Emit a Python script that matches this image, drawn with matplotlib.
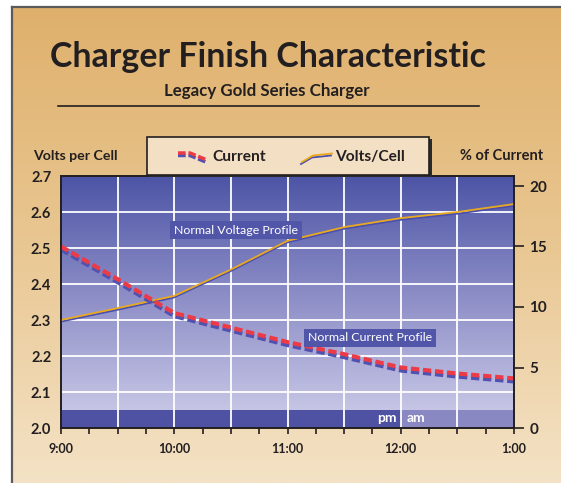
import numpy as np
import matplotlib
matplotlib.use('Agg')
import matplotlib.pyplot as plt
import matplotlib.transforms as mtransforms
from matplotlib.colors import LinearSegmentedColormap
from matplotlib.patches import Rectangle
from matplotlib.lines import Line2D

plt.rcParams['font.family'] = ['Lato', 'DejaVu Sans']

# data (hours: 9:00 am .. 1:00 am as 9..13)
hours = [9.0, 9.5, 10.0, 10.5, 11.0, 11.5, 12.0, 12.5, 13.0]
volts_per_cell = [2.30, 2.333, 2.367, 2.44, 2.52, 2.558, 2.583, 2.60, 2.622]
pct_current = [15.0, 12.3, 9.5, 8.3, 7.1, 6.1, 5.0, 4.5, 4.1]

hour_ticks = [9, 10, 11, 12, 13]
hour_labels = ['9:00', '10:00', '11:00', '12:00', '1:00']
minor_hours = [9.25, 9.5, 9.75, 10.25, 10.5, 10.75, 11.25, 11.5, 11.75,
               12.25, 12.5, 12.75]
grid_hours = [9.5, 10.0, 10.5, 11.0, 11.5, 12.0, 12.5]
volt_ticks = [2.0, 2.1, 2.2, 2.3, 2.4, 2.5, 2.6, 2.7]
volt_grid = [2.1, 2.2, 2.3, 2.4, 2.5, 2.6]
pct_ticks = [0, 5, 10, 15, 20]

TXT = '#231f20'
W, H = 561, 483


def px(x, y):
    # pixel position (from top-left) -> figure fraction
    return x / W, 1 - y / H


fig = plt.figure(figsize=(W / 100, H / 100), dpi=100)
fig.patch.set_facecolor('white')

# tan panel behind everything
bg = fig.add_axes([12 / W, 0, 1 - 12 / W, 1 - 7 / H])
bg.set_zorder(-1)
bg_cmap = LinearSegmentedColormap.from_list('tan', ['#dfb06c', '#e9c792', '#f4e2c6'])
bg.imshow(np.linspace(0, 1, 256).reshape(-1, 1), cmap=bg_cmap, aspect='auto',
          extent=[0, 1, 0, 1])
bg.set_xticks([])
bg.set_yticks([])
for s in ['right', 'bottom']:
    bg.spines[s].set_visible(False)
for s in ['left', 'top']:
    bg.spines[s].set_color('#5a5a5a')
    bg.spines[s].set_linewidth(1.6)

# main plot
ax = fig.add_axes([61 / W, 55 / H, 453 / W, 252 / H])
ax.set_xlim(9, 13)
ax.set_ylim(2.0, 2.7)
plot_cmap = LinearSegmentedColormap.from_list('blu', ['#4c54a5', '#8b8cc6', '#c6c5e5'])
ax.imshow(np.linspace(0, 1, 256).reshape(-1, 1), cmap=plot_cmap, aspect='auto',
          extent=[9, 13, 2.05, 2.7], zorder=0)
ax.axhspan(2.0, 2.05, xmin=0, xmax=0.75, color='#4f52a3', lw=0, zorder=1)
ax.axhspan(2.0, 2.05, xmin=0.75, xmax=1, color='#8a88c3', lw=0, zorder=1)
for v in volt_grid:
    ax.axhline(v, color='white', lw=1.3, zorder=2)
for h in grid_hours:
    ax.axvline(h, color='white', lw=1.3, zorder=2)

shadow_v = mtransforms.offset_copy(ax.transData, fig=fig, x=-0.8, y=-1.8, units='dots')
ax.plot(hours, volts_per_cell, color='#4a4fae', lw=1.3, transform=shadow_v, zorder=3)
ax.plot(hours, volts_per_cell, color='#e9a91f', lw=1.3, zorder=4)

ax.text(10.545, 2.55, 'Normal Voltage Profile', color='white', fontsize=8.9,
        ha='center', va='center', zorder=6,
        bbox=dict(boxstyle='square,pad=0.3', fc='#5256a8', ec='none'))
ax.text(11.96, 2.027, 'pm', color='white', fontsize=10, fontweight='bold',
        ha='right', va='center', zorder=6)
ax.text(12.05, 2.027, 'am', color='white', fontsize=10, fontweight='bold',
        ha='left', va='center', zorder=6)

for s in ax.spines.values():
    s.set_color(TXT)
    s.set_linewidth(1.2)
ax.set_yticks(volt_ticks)
ax.set_yticklabels(['%.1f' % v for v in volt_ticks], fontweight='bold')
ax.tick_params(axis='y', length=0, pad=7, labelsize=10.5, labelcolor=TXT)
ax.set_xticks(hour_ticks)
ax.set_xticklabels(hour_labels, fontweight='bold')
ax.set_xticks(minor_hours, minor=True)
ax.tick_params(axis='x', which='both', length=4, width=1.2, direction='out',
               pad=7, labelsize=9, labelcolor=TXT, color=TXT)

# current on the right axis
ax2 = ax.twinx()
ax2.set_ylim(0, 20 * 252 / 242)
shadow_c = mtransforms.offset_copy(ax2.transData, fig=fig, x=0, y=-3, units='dots')
ax2.plot(hours, pct_current, color='#4f52b0', lw=3, dashes=(2.0, 0.9),
         transform=shadow_c)
ax2.plot(hours, pct_current, color='#ec3b47', lw=3, dashes=(2.0, 0.9))
ax2.text(11.73, 7.45, 'Normal Current Profile', color='white', fontsize=8.9,
         ha='center', va='center', zorder=6,
         bbox=dict(boxstyle='square,pad=0.3', fc='#5256a8', ec='none'))
for s in ax2.spines.values():
    s.set_color(TXT)
    s.set_linewidth(1.2)
ax2.set_yticks(pct_ticks)
ax2.set_yticklabels([str(p) for p in pct_ticks], fontweight='bold')
ax2.tick_params(axis='y', length=7, width=1.2, pad=4, labelsize=11,
                labelcolor=TXT, color=TXT)

# titles
fig.text(*px(268, 57), 'Charger Finish Characteristic', ha='center', va='center',
         fontsize=24.4, fontweight='bold', color=TXT)
fig.text(*px(267, 91), 'Legacy Gold Series Charger', ha='center', va='center',
         fontsize=12.2, fontweight='bold', color=TXT)
fig.add_artist(Line2D([58 / W, 479 / W], [1 - 106 / H] * 2, color=TXT, lw=1.2,
                      transform=fig.transFigure))
fig.text(*px(33, 156), 'Volts per Cell', ha='left', va='center',
         fontsize=10.2, fontweight='bold', color=TXT)
fig.text(*px(543, 156), '% of Current', ha='right', va='center',
         fontsize=10.5, fontweight='bold', color=TXT)

# legend box
lx, ly = px(147, 175)
fig.add_artist(Rectangle((lx + 3 / W, ly - 2 / H), 282 / W, 38 / H,
                         transform=fig.transFigure, fc='#2a2a2a', ec='none', zorder=5))
fig.add_artist(Rectangle((lx, ly), 282 / W, 38 / H, transform=fig.transFigure,
                         fc='#f3dfc3', ec=TXT, lw=1.2, zorder=6))
cx = np.array([178, 190, 207]) / W
cy = np.array([153, 153, 160])
fig.add_artist(Line2D(cx, 1 - (cy + 2.5) / H, color='#4f52b0', lw=2.5,
                      dashes=(2.2, 0.8), transform=fig.transFigure, zorder=7))
fig.add_artist(Line2D(cx, 1 - cy / H, color='#ec3b47', lw=2.5,
                      dashes=(2.2, 0.8), transform=fig.transFigure, zorder=7))
vx = np.array([302, 313, 332]) / W
vy = np.array([162, 155.5, 153.5])
fig.add_artist(Line2D(vx - 1 / W, 1 - (vy + 2) / H, color='#4a4fae', lw=1.3,
                      transform=fig.transFigure, zorder=7))
fig.add_artist(Line2D(vx, 1 - vy / H, color='#e9a91f', lw=1.3,
                      transform=fig.transFigure, zorder=7))
fig.text(*px(212, 157), 'Current', ha='left', va='center', fontsize=11.2,
         fontweight='bold', color=TXT, zorder=8)
fig.text(*px(335, 157), 'Volts/Cell', ha='left', va='center', fontsize=11.2,
         fontweight='bold', color=TXT, zorder=8)

fig.savefig('out.png', dpi=100)
